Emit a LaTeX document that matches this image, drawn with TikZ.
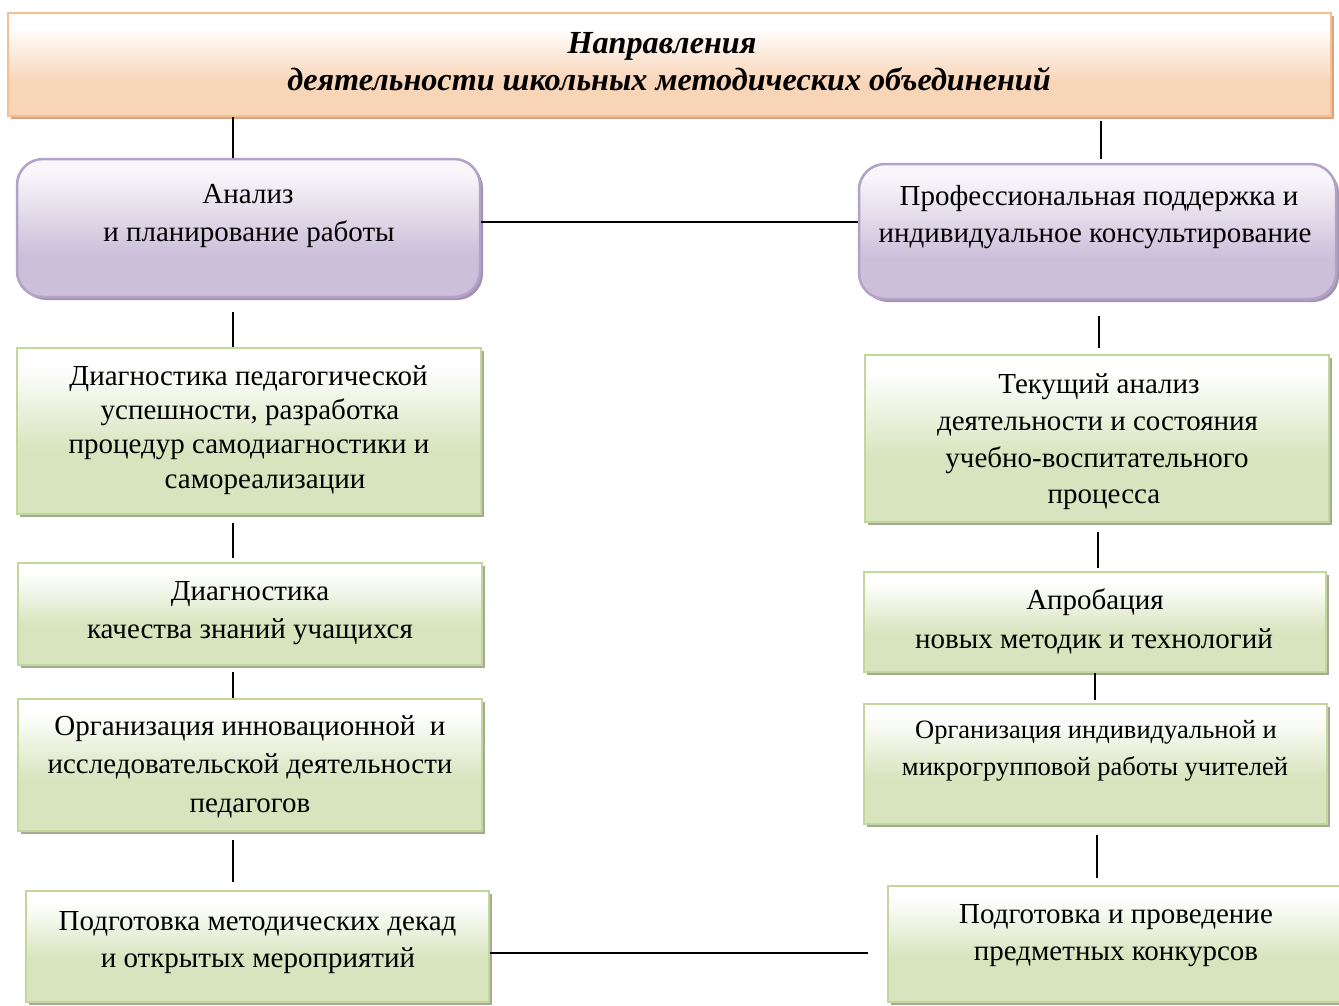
\documentclass[tikz,border=0pt]{standalone}
\usepackage{fontspec}
\setmainfont{Liberation Serif}
\usetikzlibrary{shadows}
\definecolor{tborder}{HTML}{F8BE90}
\definecolor{tfill}{HTML}{F9D5B8}
\definecolor{tshadow}{HTML}{D2A685}
\definecolor{pborder}{HTML}{B3A2C7}
\definecolor{pfill}{HTML}{CCBFDA}
\definecolor{ptop}{HTML}{F8F6FA}
\definecolor{pshadow}{HTML}{A294B0}
\definecolor{gborder}{HTML}{C3D69B}
\definecolor{gfill}{HTML}{D7E4BD}
\definecolor{gshadow}{HTML}{A2AC92}
\pgfdeclareverticalshading{tshade}{100bp}{color(0bp)=(tfill); color(42bp)=(tfill); color(68bp)=(white); color(100bp)=(white)}
\pgfdeclareverticalshading{pshade}{100bp}{color(0bp)=(pfill); color(40bp)=(pfill); color(70bp)=(ptop); color(100bp)=(ptop)}
\pgfdeclareverticalshading{gshade}{100bp}{color(0bp)=(gfill); color(44bp)=(gfill); color(70bp)=(white); color(100bp)=(white)}
\tikzset{
  titlebox/.style={draw=tborder, line width=2.5pt, shade, shading=tshade, inner sep=0pt,
    drop shadow={shadow xshift=3pt, shadow yshift=-3pt, fill=tshadow, opacity=1}},
  purplebox/.style={draw=pborder, line width=2.5pt, shade, shading=pshade, inner sep=0pt, rounded corners=26pt,
    drop shadow={shadow xshift=3pt, shadow yshift=-3pt, fill=pshadow, opacity=1}},
  greenbox/.style={draw=gborder, line width=2.4pt, shade, shading=gshade, inner sep=0pt,
    drop shadow={shadow xshift=3pt, shadow yshift=-3pt, fill=gshadow, opacity=1}},
  txt/.style={anchor=base, inner sep=0pt, font=\fontsize{29}{34}\selectfont},
  smalltxt/.style={anchor=base, inner sep=0pt, font=\fontsize{26.5}{31}\selectfont},
  titletxt/.style={anchor=base, inner sep=0pt, font=\fontsize{32.2}{38}\selectfont\bfseries\itshape},
  conn/.style={draw=black, line width=1.4pt}
}
\begin{document}
\begin{tikzpicture}[x=1pt,y=-1pt]
\useasboundingbox (0,0) rectangle (1339,1005);
\fill[white] (0,0) rectangle (1339,1005);
% boxes
\node[titlebox, minimum width=1323pt, minimum height=103pt] (t) at (669.5,64.5) {};
\node[purplebox, minimum width=463pt, minimum height=138pt] (pl) at (248.5,228) {};
\node[purplebox, minimum width=477pt, minimum height=135pt] (pr) at (1097.5,231.5) {};
\node[greenbox, minimum width=464pt, minimum height=166pt] (gl1) at (249,431) {};
\node[greenbox, minimum width=464pt, minimum height=102pt] (gl2) at (250,614) {};
\node[greenbox, minimum width=464pt, minimum height=132pt] (gl3) at (250,765) {};
\node[greenbox, minimum width=463pt, minimum height=111pt] (gl4) at (257.5,946.5) {};
\node[greenbox, minimum width=464pt, minimum height=167pt] (gr1) at (1097,438.5) {};
\node[greenbox, minimum width=462pt, minimum height=100pt] (gr2) at (1095,622) {};
\node[greenbox, minimum width=463pt, minimum height=120pt] (gr3) at (1095.5,764) {};
\node[greenbox, minimum width=456pt, minimum height=116pt] (gr4) at (1116,944) {};
% texts
\node[titletxt] (t1) at (662,53) {Направления};
\node[titletxt] (t2) at (669,90) {деятельности школьных методических объединений};
\node[txt] (pl1) at (248,203) {Анализ};
\node[txt] (pl2) at (249,241) {и планирование работы};
\node[txt] (pr1) at (1099,205) {Профессиональная поддержка и};
\node[txt] (pr2) at (1095,242) {индивидуальное консультирование};
\node[txt] (gla1) at (248.5,385) {Диагностика педагогической};
\node[txt] (gla2) at (250,419) {успешности, разработка};
\node[txt] (gla3) at (249,453) {процедур самодиагностики и};
\node[txt] (gla4) at (265,488) {самореализации};
\node[txt] (glb1) at (250,600) {Диагностика};
\node[txt] (glb2) at (250,638) {качества знаний учащихся};
\node[txt] (glc1) at (250,735) {Организация инновационной \ и};
\node[txt] (glc2) at (250,773) {исследовательской деятельности};
\node[txt] (glc3) at (250,812) {педагогов};
\node[txt] (gld1) at (257.5,930) {Подготовка методических декад};
\node[txt] (gld2) at (258,967) {и открытых мероприятий};
\node[txt] (gra1) at (1099,393) {Текущий анализ};
\node[txt] (gra2) at (1097.5,430) {деятельности и состояния};
\node[txt] (gra3) at (1097,467) {учебно-воспитательного};
\node[txt] (gra4) at (1104,503) {процесса};
\node[txt] (grb1) at (1095,609) {Апробация};
\node[txt] (grb2) at (1094,648) {новых методик и технологий};
\node[smalltxt] (grc1) at (1096,738) {Организация индивидуальной и};
\node[smalltxt] (grc2) at (1095,775) {микрогрупповой работы учителей};
\node[txt] (grd1) at (1116,923) {Подготовка и проведение};
\node[txt] (grd2) at (1116,960) {предметных конкурсов};
% connectors
\draw[conn] (t.south -| 233,0) -- (pl.north -| 233,0);
\draw[conn, shorten <=4pt, shorten >=4pt] (t.south -| 1101,0) -- (pr.north -| 1101,0);
\draw[conn] (pl.east |- 0,222) -- (pr.west |- 0,222);
\draw[conn, shorten <=14pt] (pl.south -| 233,0) -- (gl1.north -| 233,0);
\draw[conn, shorten <=8pt, shorten >=4pt] (gl1.south -| 233,0) -- (gl2.north -| 233,0);
\draw[conn, shorten <=6pt] (gl2.south -| 233,0) -- (gl3.north -| 233,0);
\draw[conn, shorten <=8pt, shorten >=8pt] (gl3.south -| 233,0) -- (gl4.north -| 233,0);
\draw[conn, shorten <=16pt, shorten >=6pt] (pr.south -| 1099,0) -- (gr1.north -| 1099,0);
\draw[conn, shorten <=9pt, shorten >=3pt] (gr1.south -| 1098,0) -- (gr2.north -| 1098,0);
\draw[conn, shorten >=3pt] (gr2.south -| 1095,0) -- (gr3.north -| 1095,0);
\draw[conn, shorten <=10pt, shorten >=7pt] (gr3.south -| 1097,0) -- (gr4.north -| 1097,0);
\coordinate (hend) at (868,953);
\draw[conn] (gl4.east |- hend) -- (hend);
\end{tikzpicture}
\end{document}
